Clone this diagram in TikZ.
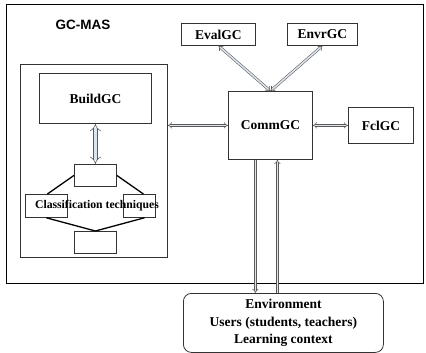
\documentclass[tikz,border=0pt]{standalone}
\usepackage{fontspec}
\setmainfont{Liberation Serif}
\newfontfamily\arialf{Liberation Sans}
\usetikzlibrary{arrows.meta,calc}
\definecolor{arrowfill}{HTML}{DCE4EE}
\definecolor{boxline}{HTML}{333333}
\tikzset{
  boxn/.style={draw=boxline, line width=0.8pt, inner sep=0pt, font=\fontsize{13.5}{16}\selectfont\bfseries, anchor=north west},
  dblarrow/.style={draw=black!65, line width=0.55pt, double=arrowfill, double distance=1.6pt, {Implies}-{Implies}},
  dblone/.style={draw=black!65, line width=0.55pt, double=arrowfill, double distance=1.6pt, -{Implies}},
  wide/.style={double distance=3.4pt},
  treeline/.style={draw=black, line width=1.3pt},
}
\begin{document}
\begin{tikzpicture}[x=1pt,y=-1pt]
\useasboundingbox (0,0) rectangle (426,353);
\fill[white] (0,0) rectangle (426,353);
% outer frame
\draw[black, line width=0.9pt] (6,4) rectangle (423,283);
\node[font=\fontsize{13.5}{16}\selectfont\arialf\bfseries] (gcmas) at (83,25) {GC-MAS};
% inner container
\node[draw=boxline, line width=0.8pt, minimum width=147pt, minimum height=193pt, anchor=north west, inner sep=0pt] (inner) at (20,64) {};
\node[boxn, minimum width=112pt, minimum height=50pt] (build) at (39,73) {BuildGC};
\node[boxn, minimum width=42pt, minimum height=22pt] (sbtop) at (74,164) {};
\node[boxn, minimum width=42pt, minimum height=23pt] (cl) at (25,194) {};
\node[boxn, minimum width=32pt, minimum height=23pt] (cr) at (123,194) {};
\node[boxn, minimum width=42pt, minimum height=22pt] (sbbot) at (74,231) {};
\node[font=\fontsize{11.7}{14}\selectfont\bfseries] (cltext) at (97,206) {Classification techniques};
% top boxes
\node[boxn, minimum width=74pt, minimum height=22pt] (eval) at (181,23) {EvalGC};
\node[boxn, minimum width=70pt, minimum height=22pt] (envr) at (287,23) {EnvrGC};
\node[boxn, minimum width=84pt, minimum height=68pt] (comm) at (228,91) {CommGC};
\node[boxn, minimum width=65pt, minimum height=36pt] (fcl) at (348,107) {FclGC};
% environment
\node[draw=boxline, line width=0.8pt, rounded corners=8pt, minimum width=200pt, minimum height=59pt, anchor=north west, inner sep=0pt, align=center, font=\fontsize{13.5}{17.5}\selectfont\bfseries] (env) at (183,293) {Environment\\Users (students, teachers)\\Learning context};
% tree lines
\draw[treeline] (sbtop.west) -- ($(cl.north)+(1,0)$);
\draw[treeline] (sbtop.east) -- ($(cr.north)+(4,0)$);
\draw[treeline] (cl.south) -- (sbbot.north);
\draw[treeline] ($(cr.south)+(5,0)$) -- (sbbot.north);
% arrows
\draw[dblarrow, wide] (build.south) -- (sbtop.north);
\draw[dblarrow] (comm.north) -- (eval.south);
\draw[dblarrow] (comm.north) -- (envr.south);
\draw[dblarrow] (inner.east |- comm.west) -- (comm.west);
\draw[dblarrow] (comm.east) -- (fcl.west);
\coordinate (dl) at ($(comm.south)+(-15,0)$);
\coordinate (dr) at ($(comm.south)+(7,0)$);
\draw[dblone] (dl) -- (dl |- env.north);
\draw[dblone] (dr |- env.north) -- (dr);
\end{tikzpicture}
\end{document}
